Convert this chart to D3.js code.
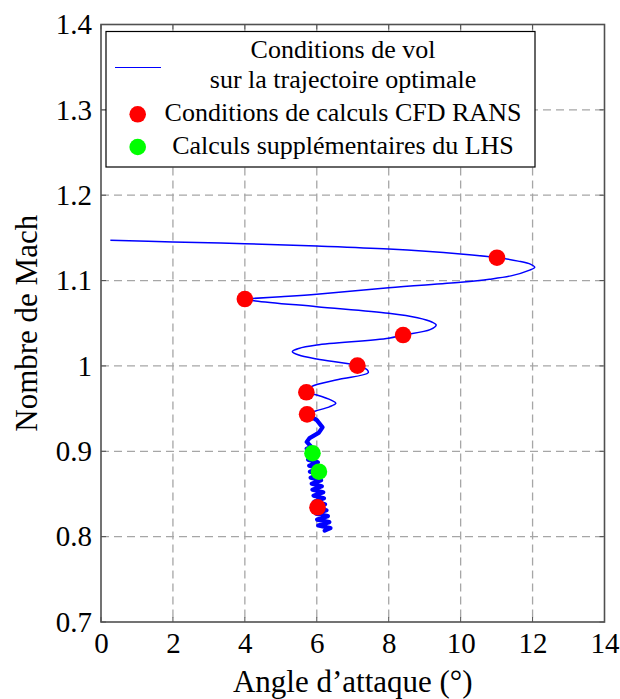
<!DOCTYPE html>
<html>
<head>
<meta charset="utf-8">
<script src="https://cdn.jsdelivr.net/npm/d3@7/dist/d3.min.js"></script>
<style>
  html, body { margin: 0; padding: 0; background: #fff; }
  svg { display: block; }
  text { font-family: "Liberation Serif", "Times New Roman", serif; fill: #000; }
</style>
</head>
<body>
<svg id="chart" width="620" height="699"></svg>
<script>
// ---------- data ----------
const xTicks = [0, 2, 4, 6, 8, 10, 12, 14];
const yTicks = [0.7, 0.8, 0.9, 1.0, 1.1, 1.2, 1.3, 1.4];
const yTickLabels = ["0.7", "0.8", "0.9", "1", "1.1", "1.2", "1.3", "1.4"];

// flight conditions along the optimal trajectory: [angle of attack (deg), Mach]
// smooth upper part
const trajectoryUpper = [
  [0.26,1.1472],[2,1.1452],[4,1.1432],[6,1.1405],[8,1.1370],[10,1.1312],[11,1.1270],
  [11.6,1.1228],[11.95,1.1190],[12.06,1.1156],[11.9,1.1120],[11.4,1.1055],[10.8,1.1015],
  [10,1.0980],[8,1.0917],[6,1.0840],[5,1.0811],[4.2,1.0790],[4.0,1.0784],[4.3,1.0762],
  [6,1.0694],[8,1.0617],[8.8,1.0565],[9.2,1.0515],[9.32,1.0480],[9.15,1.0425],[8.4,1.0362],
  [8,1.0324],[6,1.0245],[5.5,1.0205],[5.32,1.0167],[5.5,1.0128],[6,1.0081],[7.13,1.0003],
  [7.4,0.9955],[7.43,0.9920],[6.6,0.9840],[5.85,0.9757],[5.71,0.9691],[6.0,0.9660],
  [6.4,0.9600],[6.53,0.9562],[6.35,0.9520],[5.95,0.9470],[5.73,0.9433]
];
// oscillating lower part
const trajectoryLower = [
  [5.73,0.9433],[6.0,0.9365],[6.16,0.9280],[6.05,0.9215],[5.8,0.9155],[5.72,0.9110],[5.85,0.9050],
  [5.72,0.9030],[5.96,0.9005],[5.74,0.8970],[6.0,0.8940],[5.76,0.8900],[6.03,0.8870],
  [5.79,0.8830],[6.06,0.8800],[5.81,0.8760],[6.09,0.8730],[5.83,0.8690],[6.12,0.8660],
  [5.86,0.8620],[6.14,0.8590],[5.88,0.8550],[6.18,0.8520],[5.91,0.8480],[6.2,0.8450],
  [5.93,0.8410],[6.23,0.8380],[5.95,0.8340],[6.27,0.8310],[5.98,0.8270],[6.31,0.8240],
  [6.01,0.8200],[6.35,0.8170],[6.04,0.8130],[6.38,0.8100],[6.22,0.8070]
];

// CFD RANS computation conditions
const ransAlpha = [11.01, 4.0, 8.40, 7.13, 5.71, 5.73, 6.02];
const ransMach  = [1.1268, 1.0784, 1.0362, 1.0003, 0.9691, 0.9433, 0.8344];

// additional LHS computations
const lhsAlpha = [5.88, 6.06];
const lhsMach  = [0.8977, 0.8761];

const legendLabels = ["Conditions de vol", "sur la trajectoire optimale",
                      "Conditions de calculs CFD RANS", "Calculs supplémentaires du LHS"];
const xLabel = "Angle d’attaque (°)";
const yLabel = "Nombre de Mach";

// ---------- layout ----------
const svg = d3.select("#chart");
const L = 101, R = 604.5, T = 24.5, B = 622;
const x = d3.scaleLinear().domain([0, 14]).range([L, R]);
const y = d3.scaleLinear().domain([0.7, 1.4]).range([B, T]);
const frameColor = "#505050";
const gridColor = "#a6a6a6";

// grid
const grid = svg.append("g");
grid.selectAll("line.vx").data(xTicks.slice(1, -1)).enter().append("line")
  .attr("x1", d => x(d)).attr("x2", d => x(d)).attr("y1", T).attr("y2", B)
  .attr("stroke", gridColor).attr("stroke-width", 1.3).attr("stroke-dasharray", "8,5");
grid.selectAll("line.hy").data(yTicks.slice(1, -1)).enter().append("line")
  .attr("x1", L).attr("x2", R).attr("y1", d => y(d)).attr("y2", d => y(d))
  .attr("stroke", gridColor).attr("stroke-width", 1.3).attr("stroke-dasharray", "8,5");

// axes (ticks & labels via d3 axis)
const xAxis = d3.axisBottom(x).tickValues(xTicks).tickSize(0).tickPadding(10)
  .tickFormat(d3.format("d"));
const gx = svg.append("g").attr("transform", `translate(0,${B})`).call(xAxis);
gx.select(".domain").remove();
gx.selectAll("text").attr("font-size", 29).attr("font-family", "Liberation Serif").attr("fill", "#000");

const yAxis = d3.axisLeft(y).tickValues(yTicks).tickSize(0).tickPadding(9)
  .tickFormat((d, i) => yTickLabels[i]);
const gy = svg.append("g").attr("transform", `translate(${L},0)`).call(yAxis);
gy.select(".domain").remove();
gy.selectAll("text").attr("font-size", 29).attr("font-family", "Liberation Serif").attr("fill", "#000");

// small inward ticks
const tk = svg.append("g").attr("stroke", frameColor).attr("stroke-width", 1);
xTicks.forEach(v => {
  tk.append("line").attr("x1", x(v)).attr("x2", x(v)).attr("y1", B).attr("y2", B - 5);
  tk.append("line").attr("x1", x(v)).attr("x2", x(v)).attr("y1", T).attr("y2", T + 5);
});
yTicks.forEach(v => {
  tk.append("line").attr("x1", L).attr("x2", L + 5).attr("y1", y(v)).attr("y2", y(v));
  tk.append("line").attr("x1", R).attr("x2", R - 5).attr("y1", y(v)).attr("y2", y(v));
});

// frame
svg.append("rect").attr("x", L).attr("y", T).attr("width", R - L).attr("height", B - T)
  .attr("fill", "none").attr("stroke", frameColor).attr("stroke-width", 1.6);

// trajectory line
const smooth = d3.line().x(d => x(d[0])).y(d => y(d[1])).curve(d3.curveCatmullRom.alpha(0.5));
svg.append("path").datum(trajectoryUpper).attr("d", smooth)
  .attr("fill", "none").attr("stroke", "#0000ff").attr("stroke-width", 1.5)
  .attr("stroke-linejoin", "round");
const straight = d3.line().x(d => x(d[0])).y(d => y(d[1]));
svg.append("path").datum(trajectoryLower).attr("d", straight)
  .attr("fill", "none").attr("stroke", "#0000ff").attr("stroke-width", 4.2)
  .attr("stroke-linejoin", "round").attr("stroke-linecap", "round");

// points
svg.append("g").selectAll("circle").data(ransAlpha).enter().append("circle")
  .attr("cx", d => x(d)).attr("cy", (d, i) => y(ransMach[i])).attr("r", 8.3).attr("fill", "#ff0000");
svg.append("g").selectAll("circle").data(lhsAlpha).enter().append("circle")
  .attr("cx", d => x(d)).attr("cy", (d, i) => y(lhsMach[i])).attr("r", 8.3).attr("fill", "#00ff00");

// axis labels
svg.append("text").attr("x", (L + R) / 2).attr("y", 692).attr("text-anchor", "middle")
  .attr("font-size", 31).text(xLabel);
svg.append("text").attr("transform", `translate(37,${(T + B) / 2}) rotate(-90)`)
  .attr("text-anchor", "middle").attr("font-size", 31).text(yLabel);

// legend
const lg = svg.append("g");
lg.append("rect").attr("x", 106).attr("y", 31.5).attr("width", 429).attr("height", 135.5)
  .attr("fill", "#fff").attr("stroke", "#000").attr("stroke-width", 1.2);
lg.append("line").attr("x1", 115).attr("x2", 161).attr("y1", 67.5).attr("y2", 67.5)
  .attr("stroke", "#0000ff").attr("stroke-width", 1.2);
lg.append("circle").attr("cx", 137.7).attr("cy", 114.3).attr("r", 8.3).attr("fill", "#ff0000");
lg.append("circle").attr("cx", 137.7).attr("cy", 147).attr("r", 8.3).attr("fill", "#00ff00");
const legY = [58, 88, 121, 153.5];
legendLabels.forEach((t, i) => {
  lg.append("text").attr("x", 343).attr("y", legY[i]).attr("text-anchor", "middle")
    .attr("font-size", 26).text(t);
});
</script>
</body>
</html>
